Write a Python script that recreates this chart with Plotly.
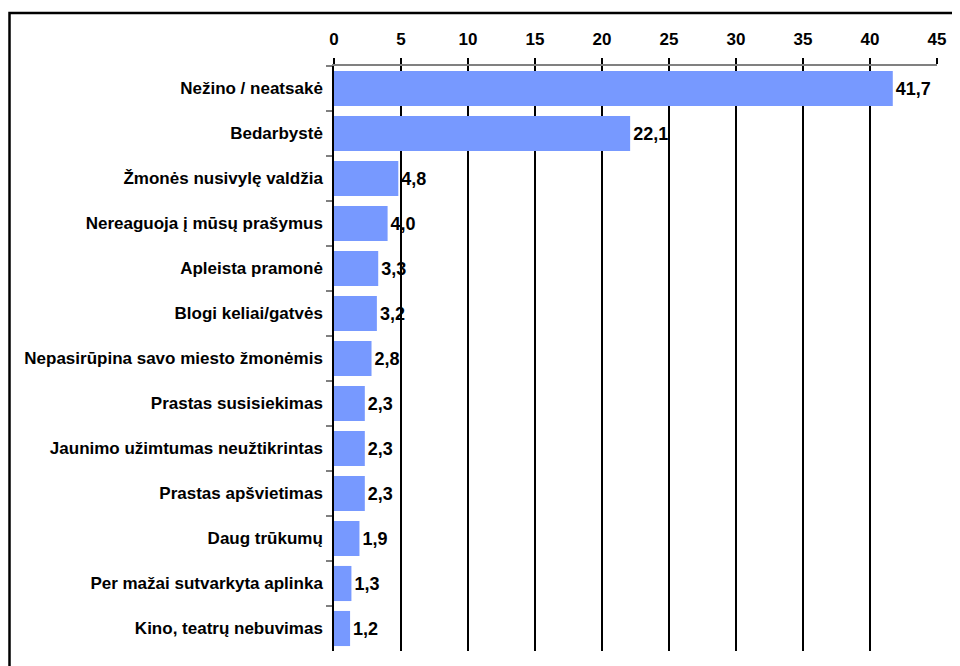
import plotly.graph_objects as go

# ── Data ─────────────────────────────────────────────────
categories = [
    "Nežino / neatsakė",
    "Bedarbystė",
    "Žmonės nusivylę valdžia",
    "Nereaguoja į mūsų prašymus",
    "Apleista pramonė",
    "Blogi keliai/gatvės",
    "Nepasirūpina savo miesto žmonėmis",
    "Prastas susisiekimas",
    "Jaunimo užimtumas neužtikrintas",
    "Prastas apšvietimas",
    "Daug trūkumų",
    "Per mažai sutvarkyta aplinka",
    "Kino, teatrų nebuvimas",
]
values = [41.7, 22.1, 4.8, 4.0, 3.3, 3.2, 2.8, 2.3, 2.3, 2.3, 1.9, 1.3, 1.2]
x_ticks = [0, 5, 10, 15, 20, 25, 30, 35, 40, 45]

labels = [f"{v:.1f}".replace(".", ",") for v in values]

FONT = "Liberation Sans, Arial, sans-serif"

fig = go.Figure()
fig.add_trace(go.Bar(
    y=categories, x=values, orientation="h",
    marker=dict(color="#7799ff", line=dict(width=0)),
    text=labels, textposition="outside", cliponaxis=False,
    constraintext="none",
    textfont=dict(family=FONT, size=18, color="black", weight="bold"),
    hoverinfo="skip",
))

# page body has an 8px margin, so figure coords = screen coords - 8
FIG_W, FIG_H = 952, 658
L, R, T, B = 326, 23, 58, 15
W, H = FIG_W - L - R, FIG_H - T - B

# outer frame (runs off the right/bottom edge like the original)
fig.add_shape(type="rect", xref="paper", yref="paper",
              x0=(1.5 - L) / W, x1=(FIG_W + 20 - L) / W,
              y0=-40 / H, y1=(FIG_H - B - 5) / H,
              line=dict(color="black", width=2.5), fillcolor="rgba(0,0,0,0)")

fig.update_layout(
    width=FIG_W, height=FIG_H,
    margin=dict(l=L, r=R, t=T, b=B),
    paper_bgcolor="white", plot_bgcolor="white",
    bargap=0.22, showlegend=False,
    font=dict(family=FONT, color="black"),
)
fig.update_xaxes(
    side="top", range=[0, 45], tickvals=x_ticks,
    tickfont=dict(family=FONT, size=17, color="black", weight="bold"),
    showgrid=True, gridcolor="black", gridwidth=1.5,
    showline=True, linecolor="#808080", linewidth=2,
    ticks="outside", ticklen=6, tickcolor="black", tickwidth=1.5,
    ticklabelstandoff=6, zeroline=False, fixedrange=True,
)
fig.update_yaxes(
    autorange="reversed",
    tickfont=dict(family=FONT, size=17, color="black", weight="bold"),
    showline=True, linecolor="black", linewidth=1.5,
    ticks="outside", tickson="boundaries", ticklen=6,
    tickcolor="#808080", tickwidth=1.5,
    ticklabelstandoff=6, showgrid=False, fixedrange=True,
)

fig.write_html("out.html", config={"displayModeBar": False})
